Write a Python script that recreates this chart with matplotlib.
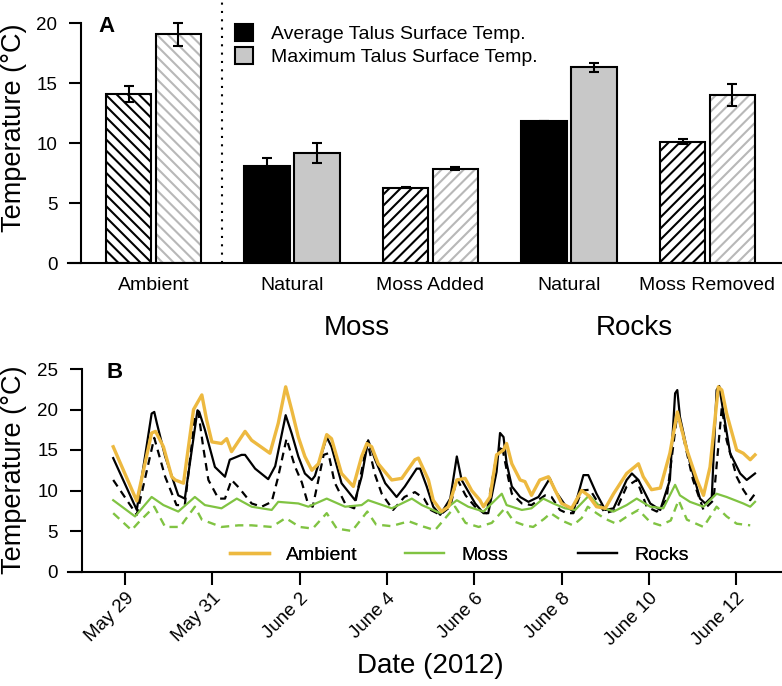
import numpy as np
import matplotlib.pyplot as plt
from matplotlib.lines import Line2D
from matplotlib.patches import Patch

plt.rcParams['font.family'] = ['Liberation Sans', 'DejaVu Sans']
plt.rcParams['hatch.linewidth'] = 1.5

# ---- panel A data ----
categories = ['Ambient', 'Natural', 'Moss Added', 'Natural', 'Moss Removed']
avg_temp = [14.1, 8.1, 6.28, 11.83, 10.1]
avg_err = [0.65, 0.65, 0.05, 0.0, 0.2]
max_temp = [19.05, 9.17, 7.86, 16.3, 14.0]
max_err = [0.95, 0.85, 0.12, 0.35, 0.95]
hatches = ['\\\\\\', None, '///', None, '///']
groups = ['Moss', 'Rocks']

# ---- panel B data (days since May 29, temperature) ----
ambient = [(-0.27, 15.4), (0.27, 8.7), (0.61, 17.1), (0.70, 17.3), (0.88, 15.4), (1.07, 11.7),
           (1.15, 11.3), (1.34, 10.9), (1.57, 20.0), (1.76, 21.8), (1.87, 18.7), (1.99, 16.0),
           (2.21, 15.8), (2.33, 16.4), (2.44, 14.8), (2.75, 17.3), (2.90, 16.2), (3.32, 14.6),
           (3.51, 18.3), (3.68, 22.8), (3.82, 19.9), (3.97, 16.6), (4.12, 14.2), (4.28, 12.5),
           (4.43, 13.3), (4.62, 16.9), (4.73, 16.4), (4.96, 12.1), (5.23, 10.5), (5.42, 14.2),
           (5.54, 15.8), (5.65, 15.4), (5.80, 13.3), (6.11, 11.3), (6.34, 11.5), (6.64, 13.8),
           (6.72, 14.0), (6.95, 11.3), (7.06, 8.8), (7.25, 7.4), (7.41, 8.0), (7.60, 11.3),
           (7.79, 11.5), (7.94, 10.0), (8.13, 8.8), (8.21, 8.0), (8.36, 9.2), (8.51, 14.4),
           (8.67, 15.0), (8.74, 15.8), (8.86, 13.3), (9.05, 11.3), (9.16, 11.1), (9.31, 9.4),
           (9.50, 11.3), (9.70, 11.7), (9.81, 10.5), (10.00, 8.4), (10.23, 7.8), (10.46, 10.0),
           (10.61, 9.4), (10.80, 8.0), (11.00, 7.8), (11.19, 9.6), (11.49, 12.1), (11.76, 13.3),
           (11.87, 11.7), (12.06, 10.1), (12.26, 10.3), (12.48, 14.6), (12.65, 19.7), (12.87, 15.0),
           (13.10, 11.3), (13.25, 9.4), (13.40, 12.9), (13.59, 22.8), (13.67, 22.4), (13.78, 19.5),
           (14.01, 15.0), (14.16, 14.6), (14.32, 13.8), (14.43, 14.4)]

rocks_natural = [(-0.27, 14.0), (0.27, 7.6), (0.61, 19.5), (0.67, 19.7), (0.73, 18.3), (0.92, 14.2),
                 (1.22, 9.4), (1.37, 9.0), (1.66, 19.9), (1.70, 19.7), (1.83, 17.5), (2.06, 12.9),
                 (2.29, 11.7), (2.40, 13.8), (2.67, 14.4), (2.75, 14.4), (2.98, 12.7), (3.28, 11.4),
                 (3.44, 13.0), (3.68, 19.3), (3.82, 17.0), (3.97, 14.2), (4.12, 12.1), (4.28, 11.3),
                 (4.35, 11.8), (4.62, 16.6), (4.73, 15.4), (4.96, 10.9), (5.27, 8.8), (5.42, 11.7),
                 (5.57, 16.2), (5.73, 13.8), (5.96, 10.9), (6.22, 9.2), (6.41, 10.5), (6.68, 12.7),
                 (6.76, 12.7), (6.91, 10.5), (7.06, 8.0), (7.22, 7.0), (7.45, 9.0), (7.60, 14.2),
                 (7.71, 11.3), (8.02, 8.4), (8.21, 7.2), (8.32, 7.2), (8.51, 12.3), (8.59, 17.1),
                 (8.67, 16.6), (8.74, 13.4), (8.86, 10.5), (9.05, 9.2), (9.24, 8.6), (9.47, 9.2),
                 (9.73, 11.5), (9.85, 10.0), (10.08, 8.2), (10.27, 7.4), (10.50, 11.9), (10.61, 11.9),
                 (10.80, 9.6), (11.00, 7.6), (11.19, 7.8), (11.49, 11.3), (11.61, 12.1), (11.76, 11.3),
                 (12.03, 8.4), (12.26, 7.6), (12.48, 11.3), (12.60, 22.0), (12.65, 22.4), (12.71, 19.1),
                 (12.94, 13.4), (13.17, 9.0), (13.29, 8.4), (13.44, 9.2), (13.55, 22.4), (13.61, 22.9),
                 (13.71, 19.5), (13.86, 14.6), (14.09, 12.1), (14.24, 11.3), (14.43, 12.1)]

rocks_moss_removed = [(-0.27, 11.3), (0.27, 7.0), (0.67, 16.5), (0.92, 11.7), (1.18, 8.2), (1.37, 8.2),
                      (1.60, 19.1), (1.68, 19.7), (1.79, 15.4), (1.91, 11.3), (2.14, 9.0), (2.29, 9.0),
                      (2.44, 11.3), (2.60, 10.4), (2.90, 8.4), (3.13, 8.0), (3.36, 8.6), (3.50, 11.5),
                      (3.70, 16.4), (3.89, 13.0), (4.05, 11.0), (4.20, 8.2), (4.30, 8.0), (4.55, 14.4),
                      (4.66, 14.6), (4.80, 11.0), (5.06, 8.2), (5.25, 7.8), (5.55, 16.0), (5.73, 11.9),
                      (5.88, 9.6), (6.14, 7.6), (6.40, 9.2), (6.64, 9.8), (6.85, 9.0), (7.00, 7.6),
                      (7.22, 7.0), (7.45, 8.0), (7.60, 11.5), (7.80, 9.4), (8.08, 7.6), (8.28, 7.2),
                      (8.50, 14.0), (8.63, 15.6), (8.78, 11.5), (8.86, 9.6), (9.09, 8.4), (9.31, 8.2),
                      (9.62, 9.4), (9.77, 9.2), (9.96, 7.6), (10.12, 7.2), (10.27, 7.2), (10.46, 10.0),
                      (10.65, 10.1), (10.80, 8.8), (11.00, 7.2), (11.25, 7.6), (11.49, 10.5), (11.72, 11.3),
                      (11.95, 8.0), (12.18, 7.4), (12.40, 8.8), (12.65, 19.5), (12.75, 17.5), (13.01, 11.3),
                      (13.25, 7.6), (13.48, 8.8), (13.67, 20.3), (13.78, 16.2), (14.01, 11.7), (14.16, 10.1),
                      (14.32, 8.8), (14.43, 9.6)]

moss_natural = [(-0.27, 8.8), (0.23, 6.8), (0.61, 9.2), (0.88, 8.2), (1.22, 7.4), (1.60, 9.2),
                (1.83, 8.2), (2.21, 7.8), (2.56, 9.0), (2.90, 8.0), (3.36, 7.6), (3.51, 8.6),
                (3.97, 8.4), (4.20, 8.0), (4.62, 9.0), (5.04, 8.0), (5.42, 8.2), (5.57, 8.8),
                (6.11, 7.8), (6.57, 9.0), (6.80, 8.2), (7.22, 7.2), (7.60, 8.8), (7.86, 8.0),
                (8.21, 7.4), (8.63, 9.6), (8.74, 8.2), (9.09, 7.6), (9.31, 7.8), (9.58, 9.0),
                (9.81, 8.4), (10.08, 7.8), (10.31, 7.6), (10.63, 9.4), (10.88, 8.0), (11.19, 7.4),
                (11.49, 8.2), (11.72, 9.0), (12.03, 8.0), (12.33, 7.8), (12.60, 10.7), (12.71, 9.4),
                (12.94, 8.6), (13.25, 8.0), (13.55, 9.6), (13.78, 9.2), (14.16, 8.4), (14.32, 8.0),
                (14.43, 8.6)]

moss_added = [(-0.27, 7.2), (0.15, 5.1), (0.30, 6.0), (0.67, 8.0), (0.92, 5.5), (1.26, 5.5),
              (1.60, 8.0), (1.76, 6.4), (2.21, 5.5), (2.60, 5.7), (2.90, 5.7), (3.36, 5.5),
              (3.68, 6.6), (4.00, 5.5), (4.30, 5.3), (4.62, 7.2), (4.85, 5.3), (5.20, 5.0),
              (5.55, 7.4), (5.75, 5.8), (6.10, 5.6), (6.50, 6.2), (6.80, 5.6), (7.10, 5.1),
              (7.56, 8.0), (7.80, 6.0), (8.10, 5.5), (8.40, 6.0), (8.70, 7.8), (8.90, 6.2),
              (9.15, 5.7), (9.35, 5.5), (9.60, 6.5), (9.75, 7.2), (10.00, 6.3), (10.26, 5.7),
              (10.46, 6.6), (10.60, 8.0), (10.80, 7.2), (11.00, 6.5), (11.25, 5.9), (11.50, 6.8),
              (11.76, 7.6), (12.03, 6.1), (12.26, 5.7), (12.50, 6.3), (12.68, 8.8), (12.87, 6.4),
              (13.25, 5.5), (13.55, 8.0), (13.78, 6.8), (14.01, 5.9), (14.32, 5.7)]

date_ticks = [0, 2, 4, 6, 8, 10, 12, 14]
date_labels = ['May 29', 'May 31', 'June 2', 'June 4', 'June 6', 'June 8', 'June 10', 'June 12']

orange = '#EDB940'
green = '#80C342'
grey = '#C8C8C8'

W, H = 782, 686
fig = plt.figure(figsize=(W / 100, H / 100), dpi=100)


def fx(px):
    return px / W


def fy(py):
    return 1 - py / H


# ================= panel A =================
axA = fig.add_axes([fx(68), fy(263), fx(782) - fx(68), 263 / H])
x = np.arange(len(categories))
off, bw = 0.18, 0.33
for i in range(len(categories)):
    if hatches[i] is None:
        axA.bar(x[i] - off, avg_temp[i], bw, color='black', edgecolor='black', linewidth=1.5)
        axA.bar(x[i] + off, max_temp[i], bw, color=grey, edgecolor='black', linewidth=1.5)
    else:
        axA.bar(x[i] - off, avg_temp[i], bw, color='white', edgecolor='black', hatch=hatches[i], linewidth=0)
        axA.bar(x[i] + off, max_temp[i], bw, color='white', edgecolor='#B8B8B8', hatch=hatches[i], linewidth=0)
        axA.bar(x[i] - off, avg_temp[i], bw, fill=False, edgecolor='black', linewidth=1.5)
        axA.bar(x[i] + off, max_temp[i], bw, fill=False, edgecolor='black', linewidth=1.5)
axA.errorbar(x - off, avg_temp, yerr=avg_err, fmt='none', ecolor='black', elinewidth=1.5, capsize=3.5, capthick=1.5)
axA.errorbar(x + off, max_temp, yerr=max_err, fmt='none', ecolor='black', elinewidth=1.5, capsize=3.5, capthick=1.5)

axA.axvline(0.495, ymin=0, ymax=1, color='black', lw=1.5, linestyle=(0, (1, 3)))
axA.set_xlim(-0.617, 4.538)
axA.set_ylim(0, 263 / 12)
axA.set_yticks([0, 5, 10, 15, 20])
axA.set_xticks(x, categories)
axA.tick_params(axis='x', length=0, pad=10, labelsize=14)
axA.tick_params(axis='y', length=9, width=1.5, pad=8, labelsize=13.5)
for s in ['top', 'right']:
    axA.spines[s].set_visible(False)
axA.spines['left'].set_position(('axes', (81 - 68) / 714))
axA.spines['left'].set_bounds(0, 20)
axA.spines['left'].set_linewidth(1.5)
axA.spines['bottom'].set_linewidth(1.5)
for i, g in enumerate(groups):
    fig.text(fx([357, 634][i]), fy(335), g, ha='center', va='baseline', fontsize=20)

fig.legend(handles=[Patch(facecolor='black', edgecolor='black', linewidth=1.5),
                    Patch(facecolor=grey, edgecolor='black', linewidth=1.5)],
           labels=['Average Talus Surface Temp.', 'Maximum Talus Surface Temp.'],
           loc='upper left', bbox_to_anchor=(fx(235), fy(24)), frameon=False, fontsize=14,
           handlelength=0.95, handleheight=0.95, handletextpad=0.9, labelspacing=0.2,
           borderpad=0, borderaxespad=0)

fig.text(fx(98), fy(32), 'A', fontsize=16, fontweight='bold', ha='left', va='baseline')
fig.text(fx(14), fy(128), 'Temperature (°C)', rotation=90, ha='center', va='center', fontsize=19.5)

# ================= panel B =================
axB = fig.add_axes([fx(68), fy(571.5), fx(782) - fx(68), 214.5 / H])
for series, col, ls, lw in [(rocks_moss_removed, 'black', (0, (3.5, 2.5)), 1.6),
                            (rocks_natural, 'black', '-', 1.6),
                            (moss_added, green, (0, (3.5, 2.5)), 1.7),
                            (moss_natural, green, '-', 1.6),
                            (ambient, orange, '-', 2.4)]:
    t, v = zip(*series)
    axB.plot(t, v, color=col, linestyle=ls, lw=lw)

axB.set_xlim((68 - 125) / 43.66, (782 - 125) / 43.66)
axB.set_ylim(0, 214.5 / 8.1)
axB.set_yticks([0, 5, 10, 15, 20, 25])
axB.set_xticks(date_ticks, date_labels, rotation=45, ha='right', rotation_mode='anchor')
axB.tick_params(axis='x', length=9, width=1.5, pad=4, labelsize=13.5)
axB.tick_params(axis='y', length=9, width=1.5, pad=8, labelsize=13.5)
for s in ['top', 'right']:
    axB.spines[s].set_visible(False)
axB.spines['left'].set_position(('axes', (81.7 - 68) / 714))
axB.spines['left'].set_bounds(0, 25)
axB.spines['left'].set_linewidth(1.5)
axB.spines['bottom'].set_linewidth(1.5)

for lab, col, lw, px in [('Ambient', orange, 2.4, 230), ('Moss', green, 1.6, 405), ('Rocks', 'black', 1.6, 578)]:
    lg = fig.legend(handles=[Line2D([], [], color=col, lw=lw)], labels=[lab], loc='center left',
                    bbox_to_anchor=(fx(px), fy(555)), frameon=False, fontsize=14,
                    handlelength=2.0, handletextpad=0.9, borderpad=0, borderaxespad=0)
    fig.add_artist(lg)

fig.text(fx(106), fy(378), 'B', fontsize=16, fontweight='bold', ha='left', va='baseline')
fig.text(fx(14), fy(470), 'Temperature (°C)', rotation=90, ha='center', va='center', fontsize=19.5)
fig.text(fx(430), fy(673), 'Date (2012)', ha='center', va='baseline', fontsize=20)

fig.savefig('out.png', dpi=100)
